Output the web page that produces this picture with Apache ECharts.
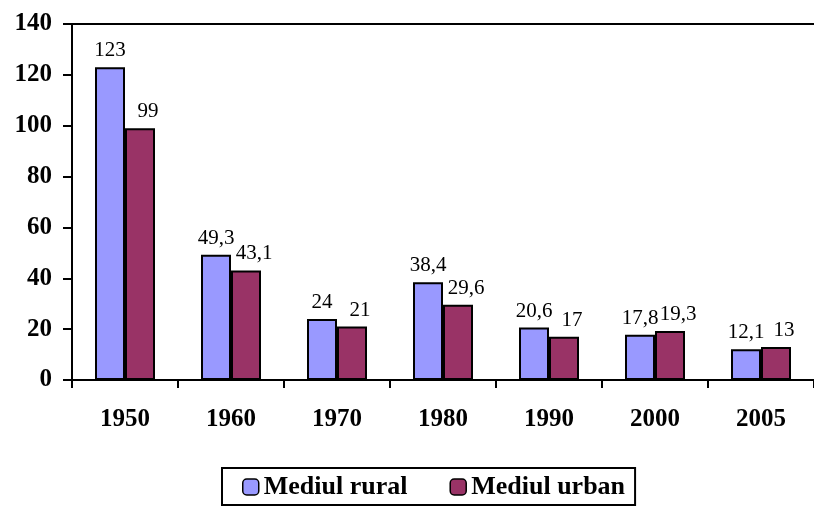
<!DOCTYPE html>
<html>
<head>
<meta charset="utf-8">
<script src="https://cdn.jsdelivr.net/npm/echarts@6/dist/echarts.min.js"></script>
<style>
  html, body { margin: 0; padding: 0; background: #fff; }
  #chart { width: 814px; height: 506px; }
</style>
</head>
<body>
<div id="chart"></div>
<script>
// date
var years = ['1950', '1960', '1970', '1980', '1990', '2000', '2005']
var rural = [123, 49.3, 24, 38.4, 20.6, 17.8, 12.1]
var urban = [99, 43.1, 21, 29.6, 17, 19.3, 13]
var seriesNames = ['Mediul rural', 'Mediul urban']

var font = '"Liberation Serif", "Times New Roman", serif'

function fmtLabel(p) {
  return String(p.value).replace('.', ',')
}

var chart = echarts.init(document.getElementById('chart'))
chart.setOption({
  animation: false,
  textStyle: { fontFamily: font },
  grid: { left: 72, right: -9, top: 24, bottom: 126 },
  legend: {
    data: seriesNames,
    left: 222,
    top: 468,
    itemWidth: 16,
    itemHeight: 16,
    itemGap: 42,
    padding: [6, 10, 5, 20],
    borderColor: '#000',
    borderWidth: 2,
    itemStyle: { borderColor: '#000', borderWidth: 1.5 },
    textStyle: { fontFamily: font, fontSize: 26, fontWeight: 'bold', color: '#000' }
  },
  xAxis: {
    type: 'category',
    data: years,
    axisLine: { lineStyle: { color: '#000', width: 2 } },
    axisTick: { show: true, length: 8, lineStyle: { color: '#000', width: 2 } },
    axisLabel: { margin: 27, fontFamily: font, fontSize: 25, fontWeight: 'bold', color: '#000' }
  },
  yAxis: {
    type: 'value',
    min: 0,
    max: 140,
    interval: 20,
    splitLine: { show: false },
    axisLine: { show: true, lineStyle: { color: '#000', width: 2 } },
    axisTick: { show: true, length: 9, lineStyle: { color: '#000', width: 2 } },
    axisLabel: { margin: 20, fontFamily: font, fontSize: 25, fontWeight: 'bold', color: '#000' }
  },
  series: [
    {
      name: seriesNames[0],
      type: 'bar',
      data: rural,
      barWidth: 30,
      barGap: '0%',
      itemStyle: { color: '#9999FF', borderColor: '#000', borderWidth: 2 },
      label: { show: true, position: 'top', distance: 6, formatter: fmtLabel,
        fontFamily: font, fontSize: 21, color: '#000' },
      markLine: {
        silent: true,
        symbol: 'none',
        label: { show: false },
        lineStyle: { color: '#000', width: 2, type: 'solid' },
        data: [{ yAxis: 140 }]
      }
    },
    {
      name: seriesNames[1],
      type: 'bar',
      data: urban,
      barWidth: 30,
      itemStyle: { color: '#993366', borderColor: '#000', borderWidth: 2 },
      label: { show: true, position: 'top', distance: 6, offset: [8, 0], formatter: fmtLabel,
        fontFamily: font, fontSize: 21, color: '#000' }
    }
  ]
})
</script>
</body>
</html>
